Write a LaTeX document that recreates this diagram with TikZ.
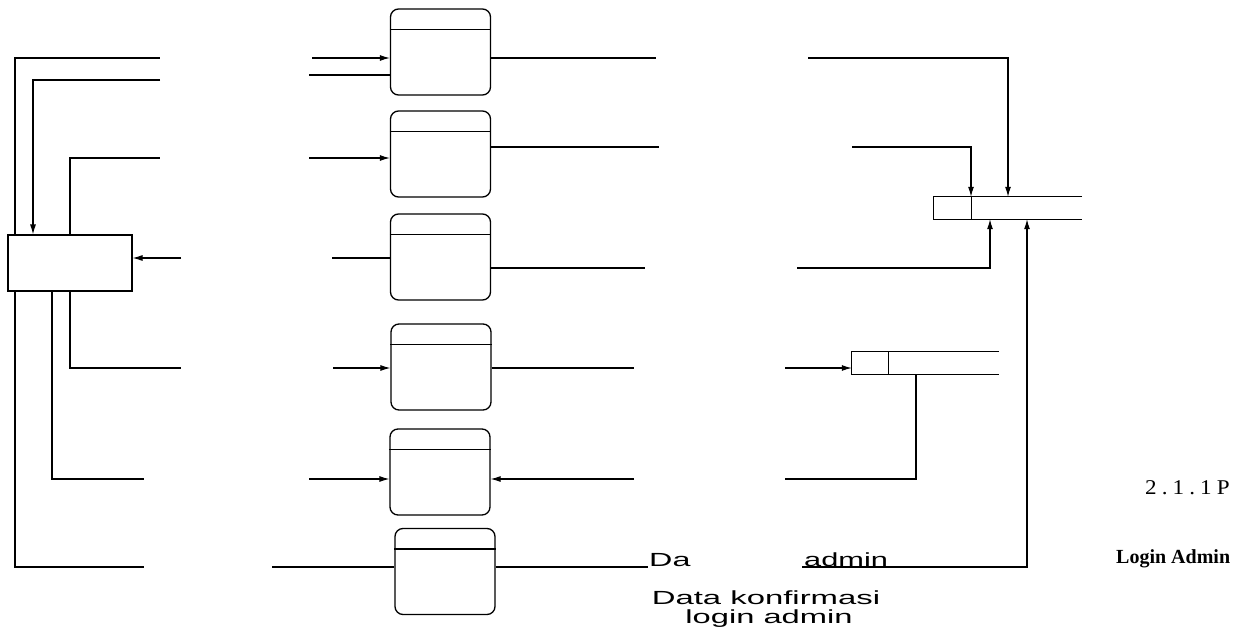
\documentclass[tikz,border=0pt]{standalone}
\usepackage{fontspec}
\setmainfont{Liberation Serif}
\newfontfamily\arialf{Liberation Sans}
\newfontfamily\spacedserif[LetterSpace=22]{Liberation Serif}
\usetikzlibrary{arrows.meta,calc}
\begin{document}
\begin{tikzpicture}[x=1pt,y=-1pt,
  ln/.style={line width=1.1pt,draw=black},
  arr/.style={ln,-{Latex[length=10pt,width=6pt]}},
  proc/.style={draw,line width=1.3pt,rounded corners=8pt,minimum width=100pt,minimum height=86pt,inner sep=0pt},
  ent/.style={draw,line width=1.1pt,minimum width=124pt,minimum height=56pt,inner sep=0pt,fill=white},
  storebox/.style={minimum height=22pt,inner sep=0pt},
  lbl/.style={font=\arialf\fontsize{19}{19}\selectfont,inner sep=0pt}
]
\useasboundingbox (0,0) rectangle (1254,634);

% external entity
\node[ent] (E) at (70,263) {};

% processes
\node[proc] (P1) at (440.5,52) {};
\node[proc] (P2) at (440.5,154) {};
\node[proc] (P3) at (440.5,257) {};
\node[proc] (P4) at (441,367) {};
\node[proc] (P5) at (440,472) {};
\node[proc] (P6) at (445,571.5) {};
\foreach \p in {P1,P2,P3,P4,P5,P6}
  \draw[line width=1.3pt] ([yshift=-21pt]\p.north west) -- ([yshift=-21pt]\p.north east);

% data stores (open on the right)
\node[storebox,minimum width=148pt] (S1) at (1008,208) {};
\draw[ln] (S1.north east) -- (S1.north west) -- (S1.south west) -- (S1.south east);
\draw[ln] ([xshift=38pt]S1.north west) -- ([xshift=38pt]S1.south west);
\node[storebox,minimum width=147pt] (S2) at (925.5,363) {};
\draw[ln] (S2.north east) -- (S2.north west) -- (S2.south west) -- (S2.south east);
\draw[ln] ([xshift=37pt]S2.north west) -- ([xshift=37pt]S2.south west);

% left connectors around the entity
\draw[ln] (E.north -| 15,0) -- (15,58) -- (160,58);
\draw[ln] (E.south -| 15,0) -- (15,567) -- (144,567);
\draw[arr] (160,80) -- (33,80) -- (E.north -| 33,0);
\draw[ln] (E.north -| 70,0) -- (70,158) -- (160,158);
\draw[arr] (181,258) -- (E.east |- 0,258);
\draw[ln] (E.south -| 70,0) -- (70,368) -- (181,368);
\draw[ln] (E.south -| 52,0) -- (52,479) -- (144,479);

% into processes
\draw[arr] (312,58) -- (P1.west |- 0,58);
\draw[ln] (309,75) -- (P1.west |- 0,75);
\draw[arr] (309,158) -- (P2.west |- 0,158);
\draw[ln] (332,258) -- (P3.west |- 0,258);
\draw[arr] (333,368) -- (P4.west |- 0,368);
\draw[arr] (309,479) -- (P5.west |- 0,479);
\draw[ln] (272,567) -- (P6.west |- 0,567);

% out of processes
\draw[ln] (P1.east |- 0,58) -- (656,58);
\draw[ln] (P2.east |- 0,147) -- (659,147);
\draw[ln] (P3.east |- 0,268) -- (645,268);
\draw[ln] (P4.east |- 0,368) -- (634,368);
\draw[arr] (634,479) -- (P5.east |- 0,479);
\draw[ln] (P6.east |- 0,567) -- (648,567);

% right side connectors to stores
\draw[arr] (808,58) -- (1008,58) -- (1008,0 |- S1.north);
\draw[arr] (852,147) -- (971,147) -- (971,0 |- S1.north);
\draw[arr] (797,268) -- (990,268) -- (990,0 |- S1.south);
\draw[arr] (785,368) -- (S2.west |- 0,368);
\draw[ln] (916,0 |- S2.south) -- (916,479) -- (785,479);
\draw[arr] (802,567) -- (1027,567) -- (1027,0 |- S1.south);

% labels
\node[lbl,anchor=base west] (t1) at (649,566) {\scalebox{1.7}[1]{Da}};
\node[lbl,anchor=base west] (t2) at (804,566) {\scalebox{1.62}[1]{admin}};
\node[lbl,anchor=base] (t3) at (766,604) {\scalebox{1.73}[1]{Data konfirmasi}};
\node[lbl,anchor=base] (t4) at (769,623) {\scalebox{1.72}[1]{login admin}};
\node[anchor=base west,inner sep=0pt,font=\spacedserif\fontsize{21}{21}\selectfont] (t5) at (1145,494) {\scalebox{1.1}[1]{2.1.1P}};
\node[anchor=base west,inner sep=0pt,font=\bfseries\fontsize{20}{20}\selectfont] (t6) at (1116,563) {Login Admin};
\end{tikzpicture}
\end{document}
